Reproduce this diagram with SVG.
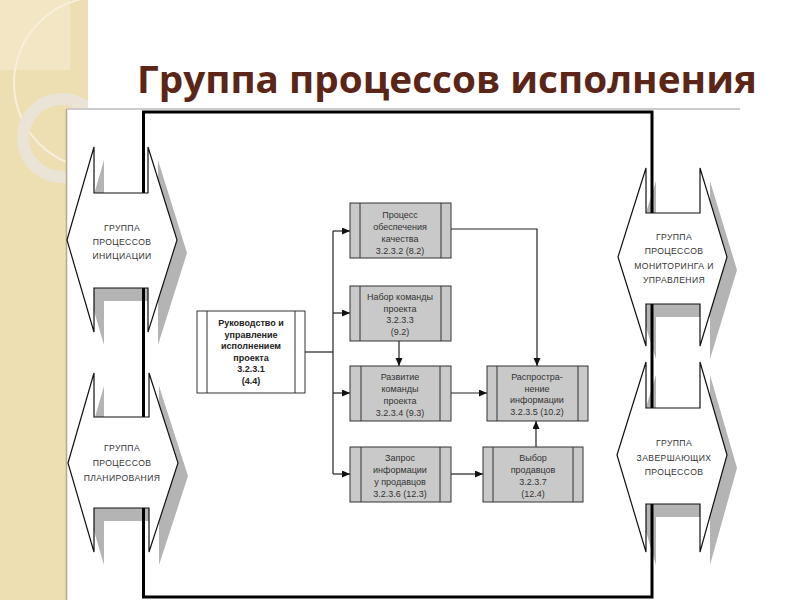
<svg xmlns="http://www.w3.org/2000/svg" width="800" height="600" viewBox="0 0 800 600">
<style>
.t{font-family:"Liberation Sans",Arial,sans-serif;font-size:9px;fill:#333;text-anchor:middle}
.b{font-weight:bold;fill:#222}
.g{font-family:"Liberation Sans",Arial,sans-serif;font-size:8.6px;fill:#333;text-anchor:middle;letter-spacing:0.4px}
.box{fill:#c9c9c9;stroke:#333;stroke-width:1}
.in{stroke:#333;stroke-width:1}
.arw{fill:#fff;stroke:#111;stroke-width:1.2}
.sh{fill:#b4b4b4}
.c{fill:none;stroke:#222;stroke-width:1.2}
</style>
<defs>
<marker id="ah" markerUnits="userSpaceOnUse" markerWidth="9" markerHeight="8" refX="8" refY="3.5" orient="auto">
<path d="M0,0 L8,3.5 L0,7 z" fill="#111"/>
</marker>
<clipPath id="bg"><rect x="0" y="0" width="88" height="108"/><rect x="0" y="0" width="66" height="600"/></clipPath>
</defs>
<rect x="0" y="0" width="800" height="600" fill="#fff"/>
<g id="decor" clip-path="url(#bg)">
<rect x="0" y="0" width="88" height="600" fill="#eedfb2"/>
<rect x="0" y="0" width="70" height="70" fill="#f2e6c4"/>
<circle cx="100" cy="83" r="86" fill="none" stroke="#f7efd9" stroke-width="2"/>
<circle cx="62" cy="138" r="39" fill="none" stroke="#e9e4d6" stroke-width="12"/>
</g>
<rect x="66" y="108.5" width="674" height="495" fill="#fff"/>
<line x1="66" y1="109" x2="740" y2="109" stroke="#9a9a9a" stroke-width="1"/>
<line x1="66.5" y1="109" x2="66.5" y2="600" stroke="#b3a988" stroke-width="1.5"/>
<text x="137" y="93" font-family="'Open Sans','Noto Sans',sans-serif" font-weight="bold" font-size="38" fill="#5b2517" textLength="620" lengthAdjust="spacingAndGlyphs">Группа процессов исполнения</text>
<g id="shadows">
<path class="sh" transform="translate(10,13)" d="M67,240 L94,147 L94,193 L148,193 L148,147 L177,240 L148,332 L148,288 L94,288 L94,332 Z"/>
<path class="sh" transform="translate(10,13)" d="M68,463 L94,373 L94,417 L149,417 L149,373 L178,463 L149,552 L149,508 L94,508 L94,552 Z"/>
<path class="sh" transform="translate(10,13)" d="M618,257 L646,168 L646,213 L700,213 L700,168 L727,257 L700,346 L700,304 L646,304 L646,346 Z"/>
<path class="sh" transform="translate(10,13)" d="M617,455 L646,362 L646,408 L700,408 L700,362 L727,455 L700,552 L700,504 L646,504 L646,552 Z"/>
</g>
<rect id="frame" x="143.5" y="112" width="508.5" height="485" fill="none" stroke="#000" stroke-width="3"/>
<g id="initiation">
<path class="arw" d="M67,240 L94,147 L94,193 L148,193 L148,147 L177,240 L148,332 L148,288 L94,288 L94,332 Z"/>
<text class="g" x="122" y="231">ГРУППА</text>
<text class="g" x="122" y="245">ПРОЦЕССОВ</text>
<text class="g" x="122" y="259">ИНИЦИАЦИИ</text>
</g>
<g id="planning">
<path class="arw" d="M68,463 L94,373 L94,417 L149,417 L149,373 L178,463 L149,552 L149,508 L94,508 L94,552 Z"/>
<text class="g" x="122" y="451">ГРУППА</text>
<text class="g" x="122" y="466">ПРОЦЕССОВ</text>
<text class="g" x="122" y="481">ПЛАНИРОВАНИЯ</text>
</g>
<g id="monitoring">
<path class="arw" d="M618,257 L646,168 L646,213 L700,213 L700,168 L727,257 L700,346 L700,304 L646,304 L646,346 Z"/>
<text class="g" x="674" y="240">ГРУППА</text>
<text class="g" x="674" y="254">ПРОЦЕССОВ</text>
<text class="g" x="674" y="269">МОНИТОРИНГА И</text>
<text class="g" x="674" y="283">УПРАВЛЕНИЯ</text>
</g>
<g id="closing">
<path class="arw" d="M617,455 L646,362 L646,408 L700,408 L700,362 L727,455 L700,552 L700,504 L646,504 L646,552 Z"/>
<text class="g" x="674" y="446">ГРУППА</text>
<text class="g" x="674" y="461">ЗАВЕРШАЮЩИХ</text>
<text class="g" x="674" y="475">ПРОЦЕССОВ</text>
</g>
<g id="connectors">
<path class="c" d="M305,352 H333"/>
<path class="c" d="M333,231 V474"/>
<path class="c" d="M333,231 H350" marker-end="url(#ah)"/>
<path class="c" d="M333,313 H350" marker-end="url(#ah)"/>
<path class="c" d="M333,393 H350" marker-end="url(#ah)"/>
<path class="c" d="M333,474 H350" marker-end="url(#ah)"/>
<path class="c" d="M399,341 V366" marker-end="url(#ah)"/>
<path class="c" d="M451,229 H537 V366" marker-end="url(#ah)"/>
<path class="c" d="M451,393 H487" marker-end="url(#ah)"/>
<path class="c" d="M451,474 H483" marker-end="url(#ah)"/>
<path class="c" d="M536,447 V421" marker-end="url(#ah)"/>
</g>
<g id="direct">
<rect x="197" y="311" width="108" height="82" fill="#fff" stroke="#333" stroke-width="1"/>
<line class="in" x1="207" y1="311" x2="207" y2="393"/>
<line class="in" x1="295" y1="311" x2="295" y2="393"/>
<text class="t b" x="251" y="326">Руководство и</text>
<text class="t b" x="251" y="337.5">управление</text>
<text class="t b" x="251" y="349">исполнением</text>
<text class="t b" x="251" y="360.5">проекта</text>
<text class="t b" x="251" y="372">3.2.3.1</text>
<text class="t b" x="251" y="384">(4.4)</text>
</g>
<g id="quality">
<rect class="box" x="350" y="203" width="101" height="55"/>
<line class="in" x1="360" y1="203" x2="360" y2="258"/>
<line class="in" x1="441" y1="203" x2="441" y2="258"/>
<text class="t" x="400" y="218">Процесс</text>
<text class="t" x="400" y="229.5">обеспечения</text>
<text class="t" x="400" y="241.5">качества</text>
<text class="t" x="400" y="254">3.2.3.2 (8.2)</text>
</g>
<g id="acquire">
<rect class="box" x="350" y="286" width="101" height="55"/>
<line class="in" x1="360" y1="286" x2="360" y2="341"/>
<line class="in" x1="441" y1="286" x2="441" y2="341"/>
<text class="t" x="400" y="300">Набор команды</text>
<text class="t" x="400" y="311.5">проекта</text>
<text class="t" x="400" y="323">3.2.3.3</text>
<text class="t" x="400" y="335">(9.2)</text>
</g>
<g id="develop">
<rect class="box" x="350" y="366" width="101" height="55"/>
<line class="in" x1="361" y1="366" x2="361" y2="421"/>
<line class="in" x1="440" y1="366" x2="440" y2="421"/>
<text class="t" x="400" y="380">Развитие</text>
<text class="t" x="400" y="392">команды</text>
<text class="t" x="400" y="404">проекта</text>
<text class="t" x="400" y="416">3.2.3.4 (9.3)</text>
</g>
<g id="request">
<rect class="box" x="350" y="447" width="101" height="55"/>
<line class="in" x1="361" y1="447" x2="361" y2="502"/>
<line class="in" x1="440" y1="447" x2="440" y2="502"/>
<text class="t" x="400" y="461">Запрос</text>
<text class="t" x="400" y="473">информации</text>
<text class="t" x="400" y="485">у продавцов</text>
<text class="t" x="400" y="497">3.2.3.6 (12.3)</text>
</g>
<g id="distribute">
<rect class="box" x="487" y="366" width="101" height="55"/>
<line class="in" x1="497" y1="366" x2="497" y2="421"/>
<line class="in" x1="578" y1="366" x2="578" y2="421"/>
<text class="t" x="537" y="380">Распростра-</text>
<text class="t" x="537" y="391.5">нение</text>
<text class="t" x="537" y="403">информации</text>
<text class="t" x="537" y="415">3.2.3.5 (10.2)</text>
</g>
<g id="select">
<rect class="box" x="483" y="447" width="100" height="55"/>
<line class="in" x1="493" y1="447" x2="493" y2="502"/>
<line class="in" x1="573" y1="447" x2="573" y2="502"/>
<text class="t" x="533" y="461">Выбор</text>
<text class="t" x="533" y="473">продавцов</text>
<text class="t" x="533" y="485">3.2.3.7</text>
<text class="t" x="533" y="497">(12.4)</text>
</g>
</svg>
